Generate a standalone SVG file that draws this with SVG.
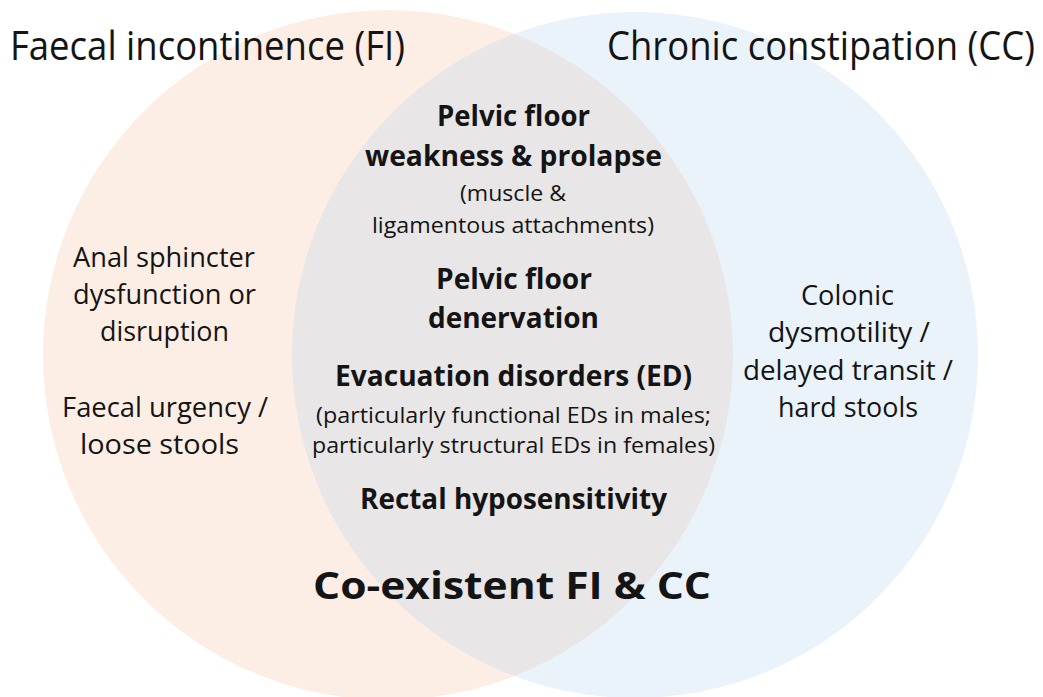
<svg xmlns="http://www.w3.org/2000/svg" width="1043" height="697" viewBox="0 0 1043 697">
<style>
text{font-family:"Open Sans","Noto Sans","Liberation Sans",sans-serif;fill:#141414;text-anchor:middle}
.t{font-size:41px}
.r{font-size:28px}
.b{font-size:28px;font-weight:700}
.s{font-size:22px}
.big{font-size:38px;font-weight:700}
</style>
<defs>
<clipPath id="clipL"><circle cx="388" cy="355" r="345"/></clipPath>
</defs>
<rect width="1043" height="697" fill="#ffffff"/>
<g id="circle-fi"><circle cx="388" cy="355" r="345" fill="#FDEEE5"/></g>
<g id="circle-cc"><circle cx="635" cy="355" r="343" fill="#EAF2FA"/></g>
<g id="overlap"><circle cx="635" cy="355" r="343" fill="#E9E6E7" clip-path="url(#clipL)"/></g>
<g id="connectors"></g>
<g id="title-fi"><text class="t" x="207.5" y="60" textLength="395" lengthAdjust="spacingAndGlyphs">Faecal incontinence (FI)</text></g>
<g id="title-cc"><text class="t" x="821" y="60" textLength="428" lengthAdjust="spacingAndGlyphs">Chronic constipation (CC)</text></g>
<g id="fi-only">
<text class="r" x="164" y="267" textLength="182" lengthAdjust="spacingAndGlyphs">Anal sphincter</text>
<text class="r" x="164.5" y="304" textLength="183" lengthAdjust="spacingAndGlyphs">dysfunction or</text>
<text class="r" x="164.5" y="341" textLength="129" lengthAdjust="spacingAndGlyphs">disruption</text>
<text class="r" x="165" y="417" textLength="206" lengthAdjust="spacingAndGlyphs">Faecal urgency /</text>
<text class="r" x="159.5" y="454" textLength="159" lengthAdjust="spacingAndGlyphs">loose stools</text>
</g>
<g id="cc-only">
<text class="r" x="847.5" y="305" textLength="93" lengthAdjust="spacingAndGlyphs">Colonic</text>
<text class="r" x="849" y="342" textLength="162" lengthAdjust="spacingAndGlyphs">dysmotility /</text>
<text class="r" x="848" y="380" textLength="210" lengthAdjust="spacingAndGlyphs">delayed transit /</text>
<text class="r" x="848" y="417" textLength="140" lengthAdjust="spacingAndGlyphs">hard stools</text>
</g>
<g id="both">
<text class="b" x="513.5" y="126" textLength="153" lengthAdjust="spacingAndGlyphs">Pelvic floor</text>
<text class="b" x="513.5" y="166" textLength="297" lengthAdjust="spacingAndGlyphs">weakness &amp; prolapse</text>
<text class="s" x="513" y="201" textLength="106" lengthAdjust="spacingAndGlyphs">(muscle &amp;</text>
<text class="s" x="513" y="233" textLength="282" lengthAdjust="spacingAndGlyphs">ligamentous attachments)</text>
<text class="b" x="514" y="289" textLength="156" lengthAdjust="spacingAndGlyphs">Pelvic floor</text>
<text class="b" x="513.5" y="328" textLength="171" lengthAdjust="spacingAndGlyphs">denervation</text>
<text class="b" x="513.5" y="386" textLength="357" lengthAdjust="spacingAndGlyphs">Evacuation disorders (ED)</text>
<text class="s" x="513.5" y="423" textLength="395" lengthAdjust="spacingAndGlyphs">(particularly functional EDs in males;</text>
<text class="s" x="513.5" y="453" textLength="403" lengthAdjust="spacingAndGlyphs">particularly structural EDs in females)</text>
<text class="b" x="513.5" y="509" textLength="307" lengthAdjust="spacingAndGlyphs">Rectal hyposensitivity</text>
<text class="big" x="512" y="599" textLength="398" lengthAdjust="spacingAndGlyphs">Co-existent FI &amp; CC</text>
</g>
</svg>
